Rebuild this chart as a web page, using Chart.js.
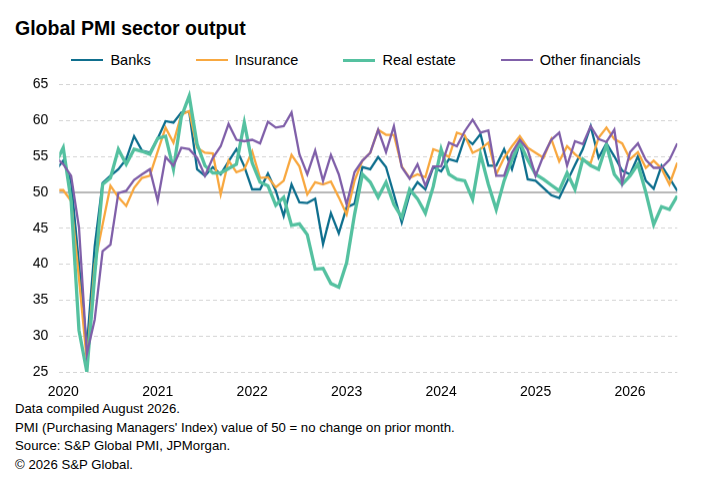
<!DOCTYPE html>
<html>
<head>
<meta charset="utf-8">
<script src="https://cdn.jsdelivr.net/npm/chart.js@4.4.1/dist/chart.umd.min.js"></script>
<style>
  body { margin: 0; width: 712px; height: 483px; background: #fff; font-family: "Liberation Sans", Arial, sans-serif; color: #000; position: relative; overflow: hidden; }
  #title { position: absolute; left: 15px; top: 17px; font-size: 19.5px; font-weight: bold; line-height: 22px; }
  #legend { position: absolute; left: 0; top: 50px; width: 712px; height: 20px; display: flex; justify-content: center; align-items: center; gap: 45px; font-size: 14.5px; }
  #legend .item { display: flex; align-items: center; }
  #legend .swatch { width: 32px; margin-right: 7px; }
  #box { position: absolute; left: 0; top: 65.3px; width: 712px; height: 334.7px; }
  #notes { position: absolute; left: 15px; top: 400px; font-size: 13.2px; line-height: 18.6px; }
</style>
</head>
<body>
<div id="title">Global PMI sector output</div>
<div id="legend"></div>
<div id="box"><canvas id="grafico"></canvas></div>
<div id="notes">
  Data compiled August 2026.<br>
  PMI (Purchasing Managers' Index) value of 50 = no change on prior month.<br>
  Source: S&amp;P Global PMI, JPMorgan.<br>
  © 2026 S&amp;P Global.
</div>
<script>
// monthly values, first entry is Dec 2019, last is Jul 2026
var anios = ["2020", "2021", "2022", "2023", "2024", "2025", "2026"];

var banks = [53.0,
  54.4, 51.5, 40.0, 28.5, 42.5, 51.3, 52.3, 53.2, 54.6, 57.8, 55.8, 55.5,
  57.5, 59.9, 59.7, 61.1, 61.2, 53.2, 52.3, 53.5, 52.5, 54.3, 56.0, 53.6,
  50.4, 50.4, 52.6, 50.2, 46.7, 51.1, 48.6, 48.5, 49.1, 42.8, 47.1, 44.3,
  47.9, 48.4, 53.5, 53.2, 54.9, 53.5, 49.7, 45.8, 49.7, 51.4, 50.4, 53.5,
  52.9, 54.6, 54.3, 57.6, 56.7, 58.1, 53.7, 53.7, 56.0, 53.2, 56.9, 51.8,
  51.6, 50.6, 49.6, 49.2, 51.5, 53.8, 56.0, 59.2, 54.8, 56.8, 55.0, 53.0,
  52.5, 55.0, 51.6, 50.5, 53.7, 52.0, 50.2];

var insurance = [50.3,
  50.3, 48.8, 38.0, 26.5, 40.0, 45.5, 50.9, 49.3, 48.1, 50.6, 52.0, 52.3,
  55.7, 59.0, 56.9, 60.8, 61.3, 56.2, 55.5, 55.4, 49.7, 54.4, 52.8, 53.2,
  55.7, 52.0, 52.1, 50.7, 51.6, 55.2, 53.6, 49.7, 51.4, 51.1, 51.5, 49.3,
  46.9, 51.6, 54.4, 55.5, 58.7, 58.0, 58.0, 53.6, 52.0, 52.5, 52.1, 56.0,
  55.6, 54.9, 58.3, 57.9, 55.5, 56.0, 56.9, 52.5, 54.8, 56.4, 57.8, 56.2,
  55.5, 54.8, 57.4, 54.3, 56.4, 55.3, 54.4, 54.1, 57.6, 59.0, 57.4, 56.8,
  54.6, 55.6, 53.4, 54.4, 53.3, 51.1, 54.1];

var real_estate = [54.0,
  56.2, 48.8, 30.8, 25.0, 38.5, 51.1, 52.0, 56.0, 53.9, 56.0, 55.7, 55.3,
  57.5, 57.8, 53.2, 60.5, 63.4, 56.7, 53.7, 52.7, 52.7, 53.3, 53.9, 59.7,
  54.1, 51.4, 50.9, 48.2, 49.3, 45.4, 45.6, 44.1, 39.3, 39.4, 37.3, 36.8,
  40.2, 46.9, 52.5, 51.4, 49.3, 51.4, 48.3, 46.5, 50.4, 49.1, 47.1, 50.8,
  56.0, 52.5, 51.8, 51.6, 49.0, 55.3, 51.1, 47.6, 51.6, 54.6, 56.9, 54.5,
  52.5, 51.8, 51.0, 50.2, 52.7, 50.4, 54.6, 53.7, 53.2, 56.6, 52.5, 51.1,
  52.3, 53.9, 50.0, 45.5, 48.0, 47.6, 49.5];

var other_financials = [54.9,
  53.9, 52.3, 45.1, 27.5, 32.3, 41.8, 42.7, 49.9, 50.2, 51.7, 52.5, 53.2,
  48.8, 54.9, 53.7, 56.2, 56.0, 54.8, 52.3, 54.8, 56.4, 59.5, 57.3, 57.1,
  57.3, 56.8, 59.8, 59.0, 59.2, 61.1, 55.3, 52.5, 55.8, 51.6, 55.2, 52.5,
  48.3, 52.8, 54.4, 55.5, 58.7, 55.6, 59.2, 53.5, 51.9, 53.9, 50.9, 53.6,
  53.6, 56.9, 56.4, 58.5, 60.1, 58.3, 58.6, 52.3, 52.3, 55.5, 57.3, 55.9,
  52.3, 55.1, 57.3, 58.3, 53.7, 57.1, 56.7, 59.2, 57.4, 57.0, 58.7, 51.3,
  55.6, 56.8, 54.5, 53.4, 53.4, 54.5, 56.8];

var series = [
  { nombre: "Banks", datos: banks, color: "#0f6f8e", ancho: 2.3, orden: 4 },
  { nombre: "Insurance", datos: insurance, color: "#f8a840", ancho: 2.3, orden: 3 },
  { nombre: "Real estate", datos: real_estate, color: "#55c1a0", ancho: 3.3, orden: 2 },
  { nombre: "Other financials", datos: other_financials, color: "#8060a9", ancho: 2.3, orden: 1 },
];

// leyenda
var leyenda = document.getElementById("legend");
series.forEach(function (s) {
  var item = document.createElement("div");
  item.className = "item";
  var linea = document.createElement("span");
  linea.className = "swatch";
  linea.style.borderTop = s.ancho + "px solid " + s.color;
  var texto = document.createElement("span");
  texto.textContent = s.nombre;
  item.appendChild(linea);
  item.appendChild(texto);
  leyenda.appendChild(item);
});

// linea de 50
var lineaCincuenta = {
  id: "lineaCincuenta",
  beforeDatasetsDraw: function (chart) {
    var ctx = chart.ctx;
    var y = chart.scales.y.getPixelForValue(50);
    ctx.save();
    ctx.strokeStyle = "#b8b8b8";
    ctx.lineWidth = 2;
    ctx.beginPath();
    ctx.moveTo(chart.chartArea.left, y);
    ctx.lineTo(chart.chartArea.right, y);
    ctx.stroke();
    ctx.restore();
  },
};

var fuente = { family: "'Liberation Sans', Arial, sans-serif", size: 14 };

var ctx = document.getElementById("grafico").getContext("2d");
var myChart = new Chart(ctx, {
  type: "line",
  data: {
    datasets: series.map(function (s) {
      return {
        label: s.nombre,
        data: s.datos.map(function (v, i) { return { x: i - 1, y: v }; }),
        borderColor: s.color,
        backgroundColor: s.color,
        borderWidth: s.ancho,
        pointRadius: 0,
        tension: 0,
        order: s.orden,
      };
    }),
  },
  options: {
    responsive: true,
    maintainAspectRatio: false,
    animation: false,
    layout: { padding: { top: 2, right: 34.7, left: 0, bottom: 0 } },
    plugins: {
      legend: { display: false },
      tooltip: { enabled: false },
    },
    scales: {
      x: {
        type: "linear",
        min: -0.5,
        max: 78,
        grid: { display: false },
        border: { display: false },
        afterBuildTicks: function (axis) {
          axis.ticks = anios.map(function (a, k) { return { value: k * 12 }; });
        },
        afterFit: function (axis) { axis.height = 28.7; },
        ticks: {
          color: "#000",
          font: fuente,
          padding: 3.5,
          maxRotation: 0,
          autoSkip: false,
          callback: function (v) { return anios[Math.round(v / 12)]; },
        },
      },
      y: {
        min: 25,
        max: 65,
        afterFit: function (axis) { axis.width = 59.3; },
        grid: {
          drawTicks: false,
          color: function (c) { return c.tick && c.tick.value === 50 ? "rgba(0,0,0,0)" : "#d4d4d4"; },
          lineWidth: 1,
        },
        border: { display: false, dash: [4, 3] },
        ticks: { stepSize: 5, color: "#000", font: fuente, padding: 11 },
      },
    },
  },
  plugins: [lineaCincuenta],
});
</script>
</body>
</html>
